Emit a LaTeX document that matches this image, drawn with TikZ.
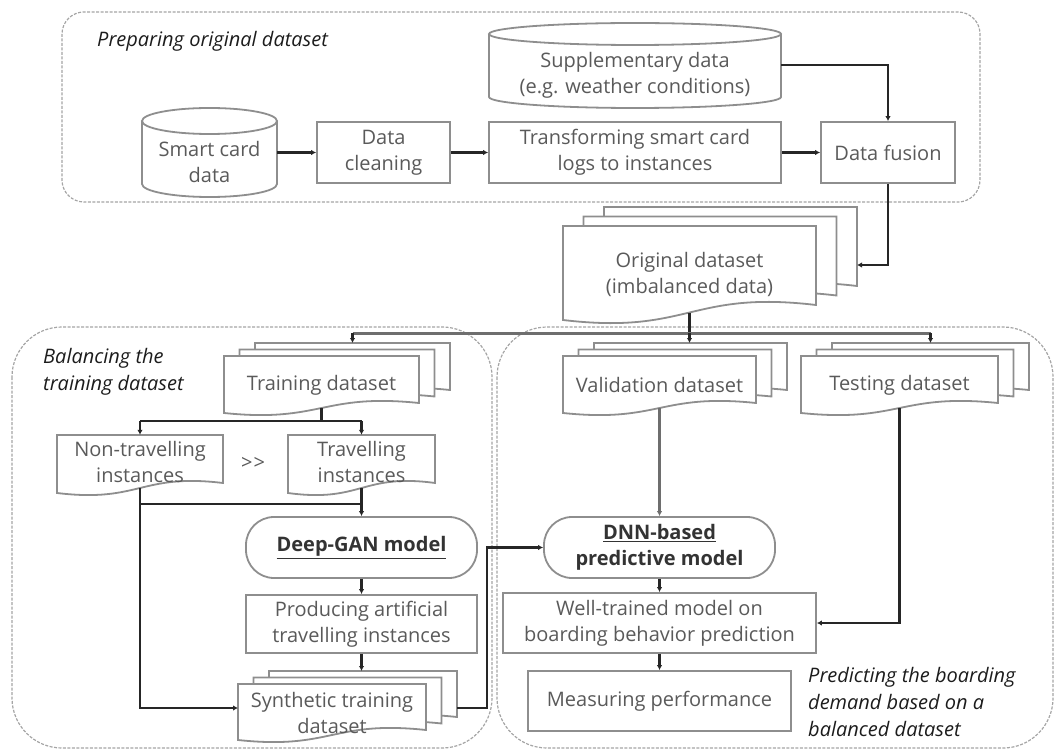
\documentclass[tikz,border=0pt]{standalone}
\usepackage{fontspec}
\setmainfont{Open Sans}
\usetikzlibrary{arrows.meta,calc}
\definecolor{boxgray}{HTML}{8E8E8E}
\definecolor{txtgray}{HTML}{5A5A5A}
\definecolor{linedark}{HTML}{262626}
\definecolor{linegray}{HTML}{6E6E6E}
\definecolor{grpgray}{HTML}{A5A5A5}
\definecolor{ttlblack}{HTML}{1C1C1C}
\newcommand{\docpath}[5]{%
  \draw[docline] (#1,#2) -- (#3,#2) -- (#3,#5)
    .. controls ({((#1)+(#3))/2},{(#5)-((#4)-(#5))}) and ({((#1)+(#3))/2},{(#4)+((#4)-(#5))}) .. (#1,#4) -- cycle;}
\newcommand{\docstackpath}[7]{%
  \docpath{#1+2*#6}{#2-2*#7}{#3+2*#6}{#4-2*#7}{#5-2*#7}%
  \docpath{#1+#6}{#2-#7}{#3+#6}{#4-#7}{#5-#7}%
  \docpath{#1}{#2}{#3}{#4}{#5}}
\begin{document}
\begin{tikzpicture}[x=1pt,y=-1pt,
  every node/.style={font=\fontsize{20}{26}\selectfont, text=txtgray},
  box/.style={draw=boxgray, line width=1.8pt, fill=white, align=center, inner sep=0pt},
  stadium/.style={box, rounded corners=28pt, font=\fontsize{20}{26}\selectfont\bfseries, text=black!80},
  docline/.style={draw=boxgray, line width=1.8pt, fill=white},
  lbl/.style={align=center, inner sep=0pt},
  grp/.style={draw=grpgray, line width=1.2pt, dash pattern=on 3pt off 1.5pt},
  gtitle/.style={font=\fontsize{20}{27}\selectfont\itshape, text=ttlblack, align=left, inner sep=0pt},
  conn/.style={draw=linedark, line width=2.4pt, -{Latex[length=5pt,width=5.5pt]}},
  connplain/.style={draw=linedark, line width=2.4pt},
  conng/.style={draw=linegray, line width=3pt, -{Latex[length=5pt,width=5.5pt]}},
  conngplain/.style={draw=linegray, line width=3pt},
]
\useasboundingbox (0,0) rectangle (1057,751);
% groups
\draw[grp, rounded corners=22pt] (62,12) rectangle (980,202);
\draw[grp, rounded corners=50pt] (12,327) rectangle (492,748);
\draw[grp, rounded corners=50pt] (497,327) rectangle (1053,748);
% cylinders
\draw[docline] (142,121) -- (142,184) arc[start angle=180,end angle=0,x radius=67.5,y radius=13] -- (277,121);
\draw[docline] (209.5,121) ellipse [x radius=67.5, y radius=13];
\draw[docline] (489,34) -- (489,97) arc[start angle=180,end angle=0,x radius=146,y radius=11] -- (781,34);
\draw[docline] (635,34) ellipse [x radius=146, y radius=11];
% document stacks
\docstackpath{563}{226}{816}{320}{305}{20.5}{9.5}
\docstackpath{224}{356}{419}{413}{403}{15.5}{6.5}
\docstackpath{563}{356}{756}{413}{403}{15.5}{6.5}
\docstackpath{801}{356}{998}{413}{403}{15.5}{6.5}
\docpath{57}{435}{223}{493}{483}
\docpath{288}{435}{435}{493}{483}
\docstackpath{238}{684}{426}{740}{730}{15.5}{6.5}
% titles
\node[gtitle, anchor=west] (ttl1) at (97,41) {Preparing original dataset};
\node[gtitle, anchor=west] (ttl2) at (43,372) {Balancing the\\training dataset};
\node[gtitle, anchor=west] (ttl3) at (808,702) {Predicting the boarding\\demand based on a\\balanced dataset};
% nodes
\node[lbl, minimum width=135pt] (smart) at (209.5,162) {Smart card\\data};
\node[box, minimum width=133pt, minimum height=61pt] (clean) at (383.5,152.5) {Data\\cleaning};
\node[box, minimum width=292pt, minimum height=61pt] (trans) at (635,152.5) {Transforming smart card\\logs to instances};
\node[lbl, minimum width=292pt] (supp) at (635,75) {Supplementary data\\(e.g. weather conditions)};
\node[box, minimum width=134pt, minimum height=61pt] (fusion) at (888,152.5) {Data fusion};
\node[lbl, minimum width=253pt, minimum height=77pt] (orig) at (689.5,274) {Original dataset\\(imbalanced data)};
\node[lbl, minimum width=195pt, minimum height=46pt] (train) at (321.5,385) {Training dataset};
\node[lbl, minimum width=193pt, minimum height=46pt] (valid) at (659.5,385) {Validation dataset};
\node[lbl, minimum width=197pt, minimum height=46pt] (test) at (899.5,385) {Testing dataset};
\node[lbl, minimum width=166pt, minimum height=53pt] (nontr) at (140,461.5) {Non-travelling\\instances};
\node[lbl, minimum width=147pt, minimum height=53pt] (trav) at (361.5,461.5) {Travelling\\instances};
\node[lbl] (gg) at (253,463) {>\kern1pt>};
\node[stadium, minimum width=231pt, minimum height=61pt] (gan) at (361.5,547.5) {\underline{Deep-GAN model}};
\node[box, minimum width=231pt, minimum height=58pt] (prod) at (361.5,624) {Producing artificial\\travelling instances};
\node[lbl, minimum width=188pt, minimum height=44pt] (synth) at (332,713) {Synthetic training\\dataset};
\node[stadium, minimum width=231pt, minimum height=61pt] (dnn) at (659.5,547.5) {\underline{DNN-based}\\predictive model};
\node[box, minimum width=313pt, minimum height=60pt] (well) at (659.5,623) {Well-trained model on\\boarding behavior prediction};
\node[box, minimum width=263pt, minimum height=60pt] (meas) at (659.5,701) {Measuring performance};
% helper coordinates
\coordinate (origr) at (857,265);
\coordinate (split) at (689.5,333);
\coordinate (traintop) at (352.5,343);
\coordinate (validtop) at (689.5,343);
\coordinate (testtop) at (930.5,343);
\coordinate (tsplit) at (321.5,421);
\coordinate (gsplit) at (361.5,504);
\coordinate (synthl) at (238,708);
\coordinate (synthr) at (457,708);
\coordinate (synthtop) at (361.5,671);
\coordinate (bend) at (487,708);
% connectors
\draw[conn] (smart.east |- clean.west) -- (clean.west);
\draw[conn] (clean) -- (trans);
\draw[conn] (trans) -- (fusion);
\draw[conn] ([yshift=10pt]supp.east) -| (fusion.north);
\draw[conn] (fusion.south) |- (origr);
\draw[connplain] (orig.south) -- (split);
\draw[conngplain] (traintop |- split) -- (testtop |- split);
\draw[conn] (traintop |- split) -- (traintop);
\draw[conn] (split) -- (validtop);
\draw[conn] (testtop |- split) -- (testtop);
\draw[connplain] (train.south) -- (tsplit);
\draw[connplain] (nontr.north |- tsplit) -- (trav.north |- tsplit);
\draw[conn] (nontr.north |- tsplit) -- (nontr.north);
\draw[conn] (trav.north |- tsplit) -- (trav.north);
\draw[conn] (nontr.south) |- (synthl);
\draw[connplain] (nontr.south |- gsplit) -- (gsplit);
\draw[conn] (trav.south) -- (gan.north);
\draw[conn] (gan) -- (prod);
\draw[conn] (prod.south) -- (synthtop);
\draw[conn] (synthr) -- (bend) |- (dnn.west);
\draw[conng] (valid.south) -- (dnn.north);
\draw[conn] (dnn) -- (well);
\draw[conn] (test.south) |- (well.east);
\draw[conn] (well) -- (meas);
\end{tikzpicture}
\end{document}
